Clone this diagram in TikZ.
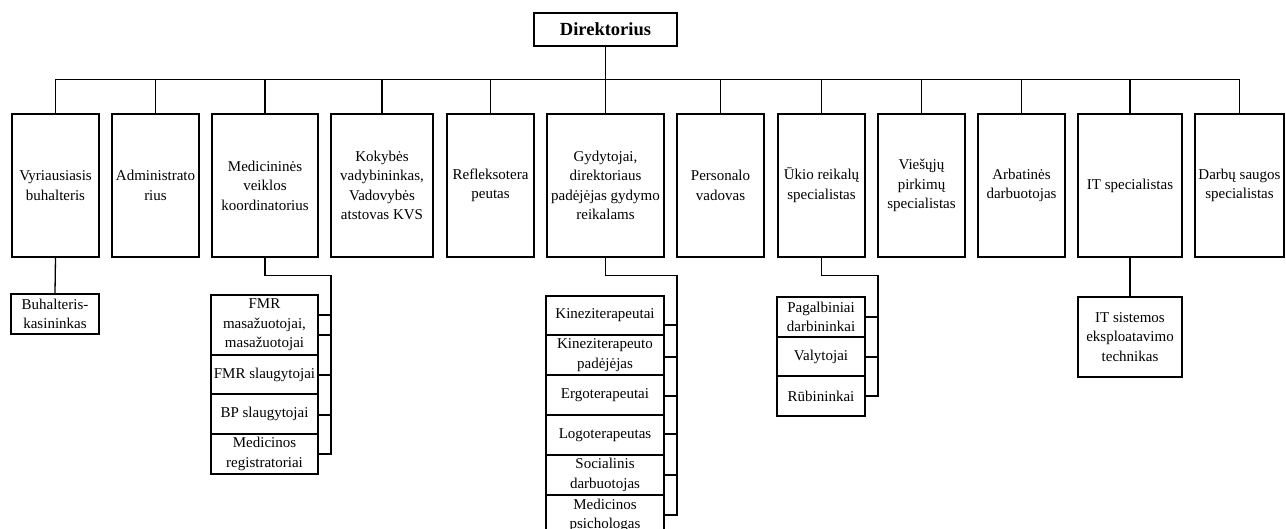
\documentclass[tikz,border=0pt]{standalone}
\usepackage{fontspec}
\setmainfont{Liberation Serif}
\begin{document}
\begin{tikzpicture}[x=1pt,y=-1pt,
  box/.style={draw, line width=1.4pt, inner sep=0pt, align=center,
    font=\fontsize{15}{19.5}\selectfont},
  ln/.style={line width=1.3pt}]
\useasboundingbox (0,0) rectangle (1286,528);
\newcommand{\bx}[6]{\node[box, minimum width={(#4-#2)*1pt}, minimum height={(#5-#3)*1pt}] (#1) at ({(#2+#4)/2},{(#3+#5)/2}) {#6};}
% director
\node[box, minimum width=143pt, minimum height=33pt, font=\fontsize{18.5}{22}\selectfont\bfseries] (dir) at (605.5,29.5) {Direktorius};
% top row
\bx{b1}{12}{114}{99}{257}{Vyriausiasis\\buhalteris}
\bx{b2}{112}{114}{199}{257}{Administrato\\rius}
\bx{b3}{212}{114}{318}{257}{Medicininės\\veiklos\\koordinatorius}
\bx{b4}{331}{114}{433}{257}{Kokybės\\vadybininkas,\\Vadovybės\\atstovas KVS}
\bx{b5}{447}{114}{534}{257}{Refleksotera\\peutas}
\bx{b6}{547}{114}{664}{257}{Gydytojai,\\direktoriaus\\padėjėjas gydymo\\reikalams}
\bx{b7}{677}{114}{764}{257}{Personalo\\vadovas}
\bx{b8}{778}{114}{865}{257}{Ūkio reikalų\\specialistas}
\bx{b9}{878}{114}{965}{257}{Viešųjų\\pirkimų\\specialistas}
\bx{b10}{978}{114}{1065}{257}{Arbatinės\\darbuotojas}
\bx{b11}{1078}{114}{1182}{257}{IT specialistas}
\bx{b12}{1195}{114}{1284}{257}{Darbų saugos\\specialistas}
% bus
\draw[ln] (b1.north) -- ++(0,-34) -| (b12.north);
\draw[ln] (dir.south) -- (b6.north);
\foreach \i in {2,3,4,5,7,8,9,10,11} {\draw[ln] (b\i.north) -- ++(0,-34);}
% Buhalteris
\bx{s1}{11}{294}{99}{334}{Buhalteris-\\kasininkas}
\draw[ln] (b1.south) -- (s1.north);
% Medicinines subs
\bx{m1}{211}{295}{318}{355}{FMR\\masažuotojai,\\masažuotojai}
\bx{m2}{211}{355}{318}{394}{FMR slaugytojai}
\bx{m3}{211}{394}{318}{434}{BP slaugytojai}
\bx{m4}{211}{434}{318}{474}{Medicinos\\registratoriai}
\coordinate (mc) at (331,454);
\draw[ln] (b3.south) -- ++(0,18) -| (mc) -- (m4.east);
\draw[ln] (m1.east |- 0,315) -- (mc |- 0,315);
\draw[ln] (m1.east |- 0,335) -- (mc |- 0,335);
\draw[ln] (m2.east |- 0,375) -- (mc |- 0,375);
\draw[ln] (m3.east |- 0,415) -- (mc |- 0,415);
% Gydytojai subs
\bx{g1}{546}{296}{664}{335}{Kineziterapeutai}
\bx{g2}{546}{335}{664}{375}{Kineziterapeuto\\padėjėjas}
\bx{g3}{546}{375}{664}{415}{Ergoterapeutai}
\bx{g4}{546}{415}{664}{455}{Logoterapeutas}
\bx{g5}{546}{455}{664}{495}{Socialinis\\darbuotojas}
\bx{g6}{546}{495}{664}{536}{Medicinos\\psichologas}
\coordinate (gc) at (677,515);
\draw[ln] (b6.south) -- ++(0,18) -| (gc) -- (g6.east |- gc);
\draw[ln] (g1.east |- 0,325) -- (gc |- 0,325);
\draw[ln] (g2.east |- 0,357) -- (gc |- 0,357);
\draw[ln] (g3.east |- 0,396) -- (gc |- 0,396);
\draw[ln] (g4.east |- 0,434) -- (gc |- 0,434);
\draw[ln] (g5.east |- 0,475) -- (gc |- 0,475);
% Ukio subs
\bx{u1}{777}{297}{865}{337}{Pagalbiniai\\darbininkai}
\bx{u2}{777}{337}{865}{376}{Valytojai}
\bx{u3}{777}{376}{865}{416}{Rūbininkai}
\coordinate (uc) at (878,396);
\draw[ln] (b8.south) -- ++(0,18) -| (uc) -- (u3.east |- uc);
\draw[ln] (u1.east |- 0,317) -- (uc |- 0,317);
\draw[ln] (u2.east |- 0,357) -- (uc |- 0,357);
% IT sub
\bx{it}{1078}{297}{1182}{377}{IT sistemos\\eksploatavimo\\technikas}
\draw[ln] (b11.south) -- (b11.south |- it.north);
\end{tikzpicture}
\end{document}
